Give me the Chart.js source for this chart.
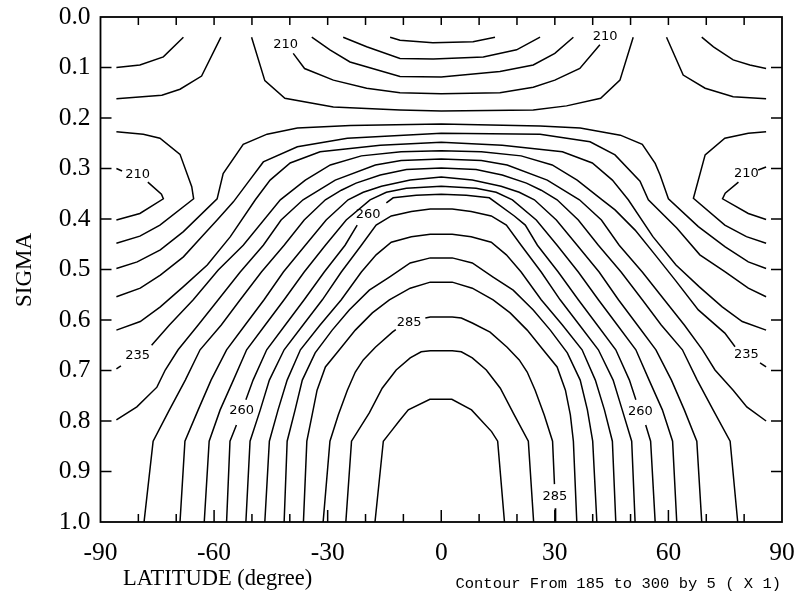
<!DOCTYPE html>
<html>
<head>
<meta charset="utf-8">
<title>Temperature cross section</title>
<script src="https://cdn.jsdelivr.net/npm/chart.js@4/dist/chart.umd.min.js"></script>
<style>
  html, body { margin: 0; padding: 0; background: #fff; }
</style>
</head>
<body>
<canvas id="temp-chart" width="799" height="596"></canvas>
<script>
// contour lines, one array per level; each level holds one or more pieces of [latitude, sigma]
const t195 = [[[-13.5, 0.040], [-10.9, 0.046], [-2.2, 0.051], [8.4, 0.049], [14.2, 0.040]]];
const t200 = [[[-25.9, 0.040], [-19.7, 0.059], [-10.9, 0.082], [-2.1, 0.083], [11.1, 0.079], [19.9, 0.065], [26.1, 0.040]]];
const t205 = [[[-34.2, 0.040], [-29.4, 0.065], [-24.1, 0.089], [-10.9, 0.118], [0, 0.119], [15.5, 0.108], [24.3, 0.095], [30.0, 0.072], [34.9, 0.040]]];
const t210 = [
  [[-39.1, 0.072], [-36.1, 0.102], [-28.5, 0.125], [-19.7, 0.141], [-10.9, 0.150], [0, 0.152], [15.5, 0.150], [24.3, 0.139], [30.0, 0.125], [36.6, 0.102], [41.9, 0.055]],
  [[-85.8, 0.300], [-84.3, 0.305]],
  [[-77.5, 0.327], [-73.9, 0.351], [-73.4, 0.360], [-79.6, 0.389], [-85.8, 0.402]],
  [[85.8, 0.297], [83.7, 0.303]],
  [[78.5, 0.327], [75.0, 0.349], [74.3, 0.360], [81.1, 0.389], [85.8, 0.401]]
];
const t215 = [
  [[-50.1, 0.040], [-46.6, 0.126], [-41.3, 0.161], [-28.5, 0.178], [-10.9, 0.184], [0, 0.186], [24.3, 0.184], [33.1, 0.176], [42.1, 0.161], [47.2, 0.125], [50.7, 0.040]],
  [[-85.8, 0.227], [-78.7, 0.232], [-74.3, 0.240], [-69.0, 0.272], [-65.9, 0.336], [-65.4, 0.360], [-74.3, 0.412], [-79.6, 0.434], [-85.8, 0.448]],
  [[85.8, 0.227], [81.1, 0.230], [74.9, 0.240], [69.7, 0.273], [66.6, 0.359], [74.9, 0.412], [80.6, 0.435], [85.8, 0.448]]
];
const t220 = [
  [[-58.2, 0.040], [-63.3, 0.117], [-69.0, 0.143], [-73.8, 0.155], [-85.8, 0.162]],
  [[59.5, 0.040], [63.9, 0.115], [69.7, 0.141], [77.1, 0.158], [85.8, 0.162]],
  [[-85.8, 0.498], [-80.3, 0.485], [-74.2, 0.461], [-68.1, 0.425], [-59.2, 0.360], [-57.6, 0.310], [-52.3, 0.252], [-46.0, 0.232], [-38.0, 0.220], [-24.0, 0.215], [0, 0.212],
   [26.1, 0.216], [36.7, 0.220], [47.3, 0.234], [53.1, 0.252], [56.5, 0.290], [57.8, 0.313], [60.0, 0.360], [67.9, 0.415], [75.0, 0.455], [81.1, 0.485], [85.8, 0.498]]
];
const t225 = [
  [[-68.1, 0.040], [-73.4, 0.079], [-79.6, 0.095], [-85.8, 0.100]],
  [[68.8, 0.040], [71.9, 0.059], [77.1, 0.085], [81.5, 0.095], [85.8, 0.102]],
  [[-85.8, 0.554], [-79.5, 0.537], [-74.2, 0.511], [-68.1, 0.475], [-62.9, 0.432], [-59.2, 0.402], [-54.9, 0.366], [-51.2, 0.329], [-47.0, 0.287], [-38.0, 0.257], [-24.8, 0.240], [0, 0.230],
   [26.1, 0.232], [39.3, 0.247], [45.9, 0.273], [52.5, 0.325], [54.7, 0.362], [62.2, 0.418], [68.3, 0.471], [74.9, 0.504], [81.1, 0.537], [85.8, 0.554]]
];
const t230 = [
  [[-85.8, 0.620], [-79.5, 0.603], [-74.2, 0.574], [-68.1, 0.534], [-61.8, 0.491], [-55.7, 0.435], [-49.1, 0.362], [-45.2, 0.323], [-39.9, 0.289], [-32.0, 0.267], [-16.1, 0.254], [0, 0.248],
   [16.1, 0.254], [32.0, 0.267], [39.9, 0.289], [45.2, 0.323], [49.4, 0.362], [55.9, 0.435], [62.0, 0.491], [68.1, 0.534], [74.2, 0.574], [79.5, 0.603], [85.8, 0.620]]
];
const t235 = [
  [[-85.8, 0.697], [-84.6, 0.691]],
  [[-76.5, 0.650], [-71.8, 0.610], [-65.5, 0.560], [-58.9, 0.501], [-52.3, 0.452], [-42.5, 0.362], [-35.9, 0.323], [-29.3, 0.293], [-21.1, 0.275], [-10.6, 0.267], [0, 0.265],
   [10.6, 0.267], [21.1, 0.275], [29.3, 0.293], [35.9, 0.323], [42.5, 0.362], [45.9, 0.382], [51.2, 0.422], [56.5, 0.471], [61.8, 0.521], [67.9, 0.580], [74.9, 0.626], [77.6, 0.653]],
  [[84.2, 0.685], [85.8, 0.693]]
];
const t240 = [
  [[-85.8, 0.798], [-80.4, 0.772], [-75.1, 0.733], [-72.9, 0.699], [-69.5, 0.659], [-64.2, 0.610], [-58.9, 0.560], [-53.1, 0.505], [-47.0, 0.452], [-42.3, 0.402], [-36.5, 0.362], [-28.0, 0.323], [-17.4, 0.293], [-10.6, 0.284], [0, 0.281],
   [10.6, 0.284], [17.4, 0.293], [28.0, 0.323], [36.5, 0.362], [42.3, 0.402], [47.0, 0.452], [53.1, 0.505], [58.9, 0.560], [64.2, 0.610], [69.0, 0.659], [72.3, 0.699], [77.1, 0.739], [80.7, 0.772], [85.8, 0.800]]
];
const t245 = [
  [[-78.5, 1.0], [-76.1, 0.840], [-71.8, 0.778], [-67.6, 0.719], [-63.7, 0.659], [-58.1, 0.610], [-53.1, 0.560], [-47.5, 0.505], [-41.5, 0.452], [-36.2, 0.402], [-30.6, 0.362], [-26.4, 0.343], [-22.5, 0.329], [-16.1, 0.313], [-9.2, 0.302], [0, 0.299],
   [9.2, 0.302], [16.1, 0.313], [22.5, 0.329], [26.4, 0.343], [30.6, 0.362], [36.2, 0.402], [41.5, 0.452], [47.5, 0.505], [53.1, 0.560], [58.1, 0.610], [63.7, 0.659], [67.6, 0.719], [71.8, 0.778], [76.3, 0.840], [78.3, 1.0]]
];
const t250 = [
  [[-69.0, 1.0], [-67.7, 0.840], [-64.2, 0.778], [-60.8, 0.719], [-56.7, 0.659], [-51.8, 0.610], [-46.8, 0.560], [-41.7, 0.505], [-35.9, 0.452], [-30.4, 0.402], [-24.6, 0.362], [-20.6, 0.347], [-15.8, 0.335], [-8.2, 0.323], [0, 0.317],
   [8.2, 0.323], [15.8, 0.335], [20.6, 0.347], [24.6, 0.362], [30.4, 0.402], [35.9, 0.452], [41.7, 0.505], [46.8, 0.560], [51.8, 0.610], [56.7, 0.659], [60.8, 0.719], [64.2, 0.778], [67.5, 0.840], [68.8, 1.0]]
];
const t255 = [
  [[-62.6, 1.0], [-61.3, 0.840], [-58.4, 0.778], [-54.9, 0.719], [-51.4, 0.659], [-46.5, 0.610], [-41.5, 0.560], [-36.2, 0.505], [-30.6, 0.452], [-25.1, 0.402], [-18.8, 0.362], [-14.5, 0.347], [-9.2, 0.339], [0, 0.335],
   [9.2, 0.339], [14.5, 0.347], [18.8, 0.362], [25.1, 0.402], [30.6, 0.452], [36.2, 0.505], [41.5, 0.560], [46.5, 0.610], [51.4, 0.659], [54.9, 0.719], [58.4, 0.778], [61.1, 0.840], [62.2, 1.0]]
];
const t260 = [
  [[-56.7, 1.0], [-55.8, 0.840], [-54.1, 0.808]],
  [[-51.6, 0.758], [-49.7, 0.719], [-46.1, 0.659], [-41.2, 0.610], [-36.2, 0.560], [-30.9, 0.505], [-25.4, 0.452], [-22.2, 0.412]],
  [[-14.5, 0.368], [-12.7, 0.358], [-6.6, 0.353], [0, 0.351], [6.6, 0.353], [12.7, 0.358], [19.3, 0.394], [22.2, 0.412], [25.4, 0.452], [30.9, 0.505], [36.2, 0.560], [41.2, 0.610], [46.1, 0.659], [49.7, 0.719], [51.4, 0.758]],
  [[54.0, 0.808], [55.3, 0.840], [56.5, 1.0]]
];
const t265 = [
  [[-51.6, 1.0], [-50.5, 0.840], [-47.8, 0.778], [-45.4, 0.719], [-41.5, 0.659], [-36.5, 0.610], [-31.4, 0.560], [-26.4, 0.505], [-21.1, 0.452], [-17.2, 0.412], [-13.2, 0.394], [-7.9, 0.385], [-2.9, 0.380],
   [2.9, 0.380], [7.9, 0.385], [13.2, 0.394], [17.2, 0.412], [21.1, 0.452], [26.4, 0.505], [31.4, 0.560], [36.5, 0.610], [41.5, 0.659], [45.4, 0.719], [47.8, 0.778], [50.3, 0.840], [51.2, 1.0]]
];
const t270 = [
  [[-46.6, 1.0], [-45.4, 0.840], [-43.1, 0.778], [-40.7, 0.719], [-37.2, 0.659], [-32.0, 0.610], [-26.4, 0.560], [-21.1, 0.505], [-17.2, 0.471], [-13.2, 0.446], [-7.9, 0.435], [-2.9, 0.430],
   [2.9, 0.430], [7.9, 0.435], [13.2, 0.446], [17.2, 0.471], [21.1, 0.505], [26.4, 0.560], [32.0, 0.610], [37.2, 0.659], [40.7, 0.719], [43.1, 0.778], [45.2, 0.840], [46.1, 1.0]]
];
const t275 = [
  [[-41.5, 1.0], [-40.7, 0.840], [-38.6, 0.778], [-36.7, 0.719], [-33.3, 0.665], [-28.8, 0.620], [-24.3, 0.580], [-19.0, 0.541], [-13.7, 0.515], [-8.2, 0.487], [-2.9, 0.477],
   [2.9, 0.477], [8.2, 0.487], [13.7, 0.515], [19.0, 0.541], [24.3, 0.580], [28.8, 0.620], [33.3, 0.665], [36.7, 0.719], [38.6, 0.778], [40.0, 0.840], [41.1, 1.0]]
];
const t280 = [
  [[-36.4, 1.0], [-35.5, 0.840], [-34.1, 0.788], [-32.8, 0.739], [-30.6, 0.693], [-26.9, 0.659], [-22.7, 0.620], [-18.2, 0.586], [-13.7, 0.560], [-8.2, 0.537], [-2.9, 0.525],
   [2.9, 0.525], [8.2, 0.537], [13.7, 0.560], [18.2, 0.586], [22.7, 0.620], [26.9, 0.659], [30.6, 0.693], [32.8, 0.739], [34.1, 0.788], [34.9, 0.840], [35.8, 1.0]]
];
const t285 = [
  [[-31.2, 1.0], [-29.4, 0.840], [-27.2, 0.788], [-24.8, 0.739], [-22.7, 0.703], [-20.6, 0.679], [-17.4, 0.654], [-12.9, 0.624], [-12.0, 0.619]],
  [[-4.2, 0.596], [-2.9, 0.594], [2.9, 0.594], [5.3, 0.596], [8.2, 0.606], [12.9, 0.624], [17.4, 0.654], [20.6, 0.679], [22.7, 0.703], [24.8, 0.739], [27.2, 0.788], [29.4, 0.840], [29.9, 0.925]],
  [[30.1, 0.973], [30.2, 1.0]]
];
const t290 = [
  [[-25.2, 1.0], [-23.7, 0.840], [-19.0, 0.784], [-15.6, 0.735], [-11.9, 0.699], [-8.2, 0.675], [-5.3, 0.663], [-2.9, 0.661],
   [2.9, 0.661], [5.3, 0.663], [8.2, 0.675], [11.9, 0.699], [15.6, 0.735], [19.0, 0.784], [23.0, 0.840], [24.4, 1.0]]
];
const t295 = [
  [[-17.5, 1.0], [-15.3, 0.840], [-13.3, 0.821], [-10.9, 0.798], [-8.7, 0.778], [-3.0, 0.757], [2.8, 0.757], [8.0, 0.778], [13.3, 0.821], [14.9, 0.840], [16.7, 1.0]]
];

// inline contour labels: [text, latitude, sigma]
const contourLabels = [
  ['210', -41.1, 0.055], ['210', 43.3, 0.039],
  ['210', -80.2, 0.313], ['210', 80.6, 0.311],
  ['235', -80.2, 0.671], ['235', 80.6, 0.669],
  ['260', -19.3, 0.392], ['260', -52.7, 0.780], ['260', 52.6, 0.781],
  ['285', -8.5, 0.606], ['285', 30.0, 0.949]
];

const latTicks = [-80, -70, -60, -50, -40, -30, -20, -10, 0, 10, 20, 30, 40, 50, 60, 70, 80];
const sigmaTicks = [0.1, 0.2, 0.3, 0.4, 0.5, 0.6, 0.7, 0.8, 0.9];

const allLevels = [t195, t200, t205, t210, t215, t220, t225, t230, t235, t240, t245,
  t250, t255, t260, t265, t270, t275, t280, t285, t290, t295];

const datasets = [];
allLevels.forEach((pieces) => {
  pieces.forEach((piece) => {
    datasets.push({
      data: piece.map(([lat, sig]) => ({ x: lat, y: sig })),
      showLine: true,
      borderColor: "#000",
      borderWidth: 1.5,
      pointRadius: 0,
      fill: false,
      tension: 0,
    });
  });
});

const serif = "'Liberation Serif', 'Times New Roman', serif";

// frame, inward ticks, contour labels and axis captions
const decorations = {
  id: "decorations",
  afterDatasetsDraw(chart) {
    const { ctx, chartArea: a, scales } = chart;
    const x = scales.x;
    const y = scales.y;
    ctx.save();
    ctx.strokeStyle = "#000";
    ctx.lineWidth = 1.8;
    ctx.strokeRect(a.left, a.top, a.right - a.left, a.bottom - a.top);

    ctx.lineWidth = 1.5;
    ctx.beginPath();
    latTicks.forEach((v) => {
      const px = x.getPixelForValue(v);
      const len = v % 30 === 0 ? 12 : 8;
      ctx.moveTo(px, a.bottom);
      ctx.lineTo(px, a.bottom - len);
      ctx.moveTo(px, a.top);
      ctx.lineTo(px, a.top + 8);
    });
    sigmaTicks.forEach((v) => {
      const py = y.getPixelForValue(v);
      ctx.moveTo(a.left, py);
      ctx.lineTo(a.left + 11, py);
      ctx.moveTo(a.right, py);
      ctx.lineTo(a.right - 11, py);
    });
    ctx.stroke();

    ctx.fillStyle = "#000";
    ctx.font = "13px 'DejaVu Sans'";
    ctx.textAlign = "center";
    ctx.textBaseline = "middle";
    contourLabels.forEach(([txt, lat, sig]) => {
      ctx.fillText(txt, x.getPixelForValue(lat), y.getPixelForValue(sig));
    });
    ctx.restore();
  },
  afterDraw(chart) {
    const { ctx } = chart;
    ctx.save();
    ctx.fillStyle = "#000";
    ctx.textBaseline = "alphabetic";

    ctx.font = "22.5px " + serif;
    ctx.textAlign = "left";
    ctx.fillText("LATITUDE (degree)", 123, 584.5);

    ctx.font = "15.5px 'Liberation Mono', monospace";
    ctx.textAlign = "right";
    ctx.fillText("Contour From 185 to 300 by 5 ( X 1)", 781, 588);

    ctx.translate(31, 270);
    ctx.rotate(-Math.PI / 2);
    ctx.font = "23px " + serif;
    ctx.textAlign = "center";
    ctx.fillText("SIGMA", 0, 0);
    ctx.restore();
  },
};

new Chart(document.getElementById("temp-chart"), {
  type: "scatter",
  data: { datasets },
  options: {
    responsive: false,
    animation: false,
    events: [],
    layout: { padding: { top: 17, right: 17, left: 0, bottom: 0 } },
    plugins: {
      legend: { display: false },
      tooltip: { enabled: false },
    },
    scales: {
      x: {
        type: "linear",
        min: -90,
        max: 90,
        grid: { display: false, drawTicks: false },
        border: { display: false },
        ticks: {
          stepSize: 30,
          padding: 16,
          autoSkip: false,
          maxRotation: 0,
          color: "#000",
          font: { family: serif, size: 25.5 },
        },
        afterFit: (scale) => {
          // fixed band under the plot; ignore the overhang of the end labels
          scale.height = 74;
          scale.paddingLeft = 0;
          scale.paddingRight = 0;
        },
      },
      y: {
        type: "linear",
        min: 0,
        max: 1,
        reverse: true,
        grid: { display: false, drawTicks: false },
        border: { display: false },
        ticks: {
          stepSize: 0.1,
          padding: 10,
          color: "#000",
          font: { family: serif, size: 25.5 },
          callback: (v) => v.toFixed(1),
        },
        afterFit: (scale) => {
          scale.width = 100.5;
          scale.paddingTop = 0;
          scale.paddingBottom = 0;
        },
      },
    },
  },
  plugins: [decorations],
});
</script>
</body>
</html>
